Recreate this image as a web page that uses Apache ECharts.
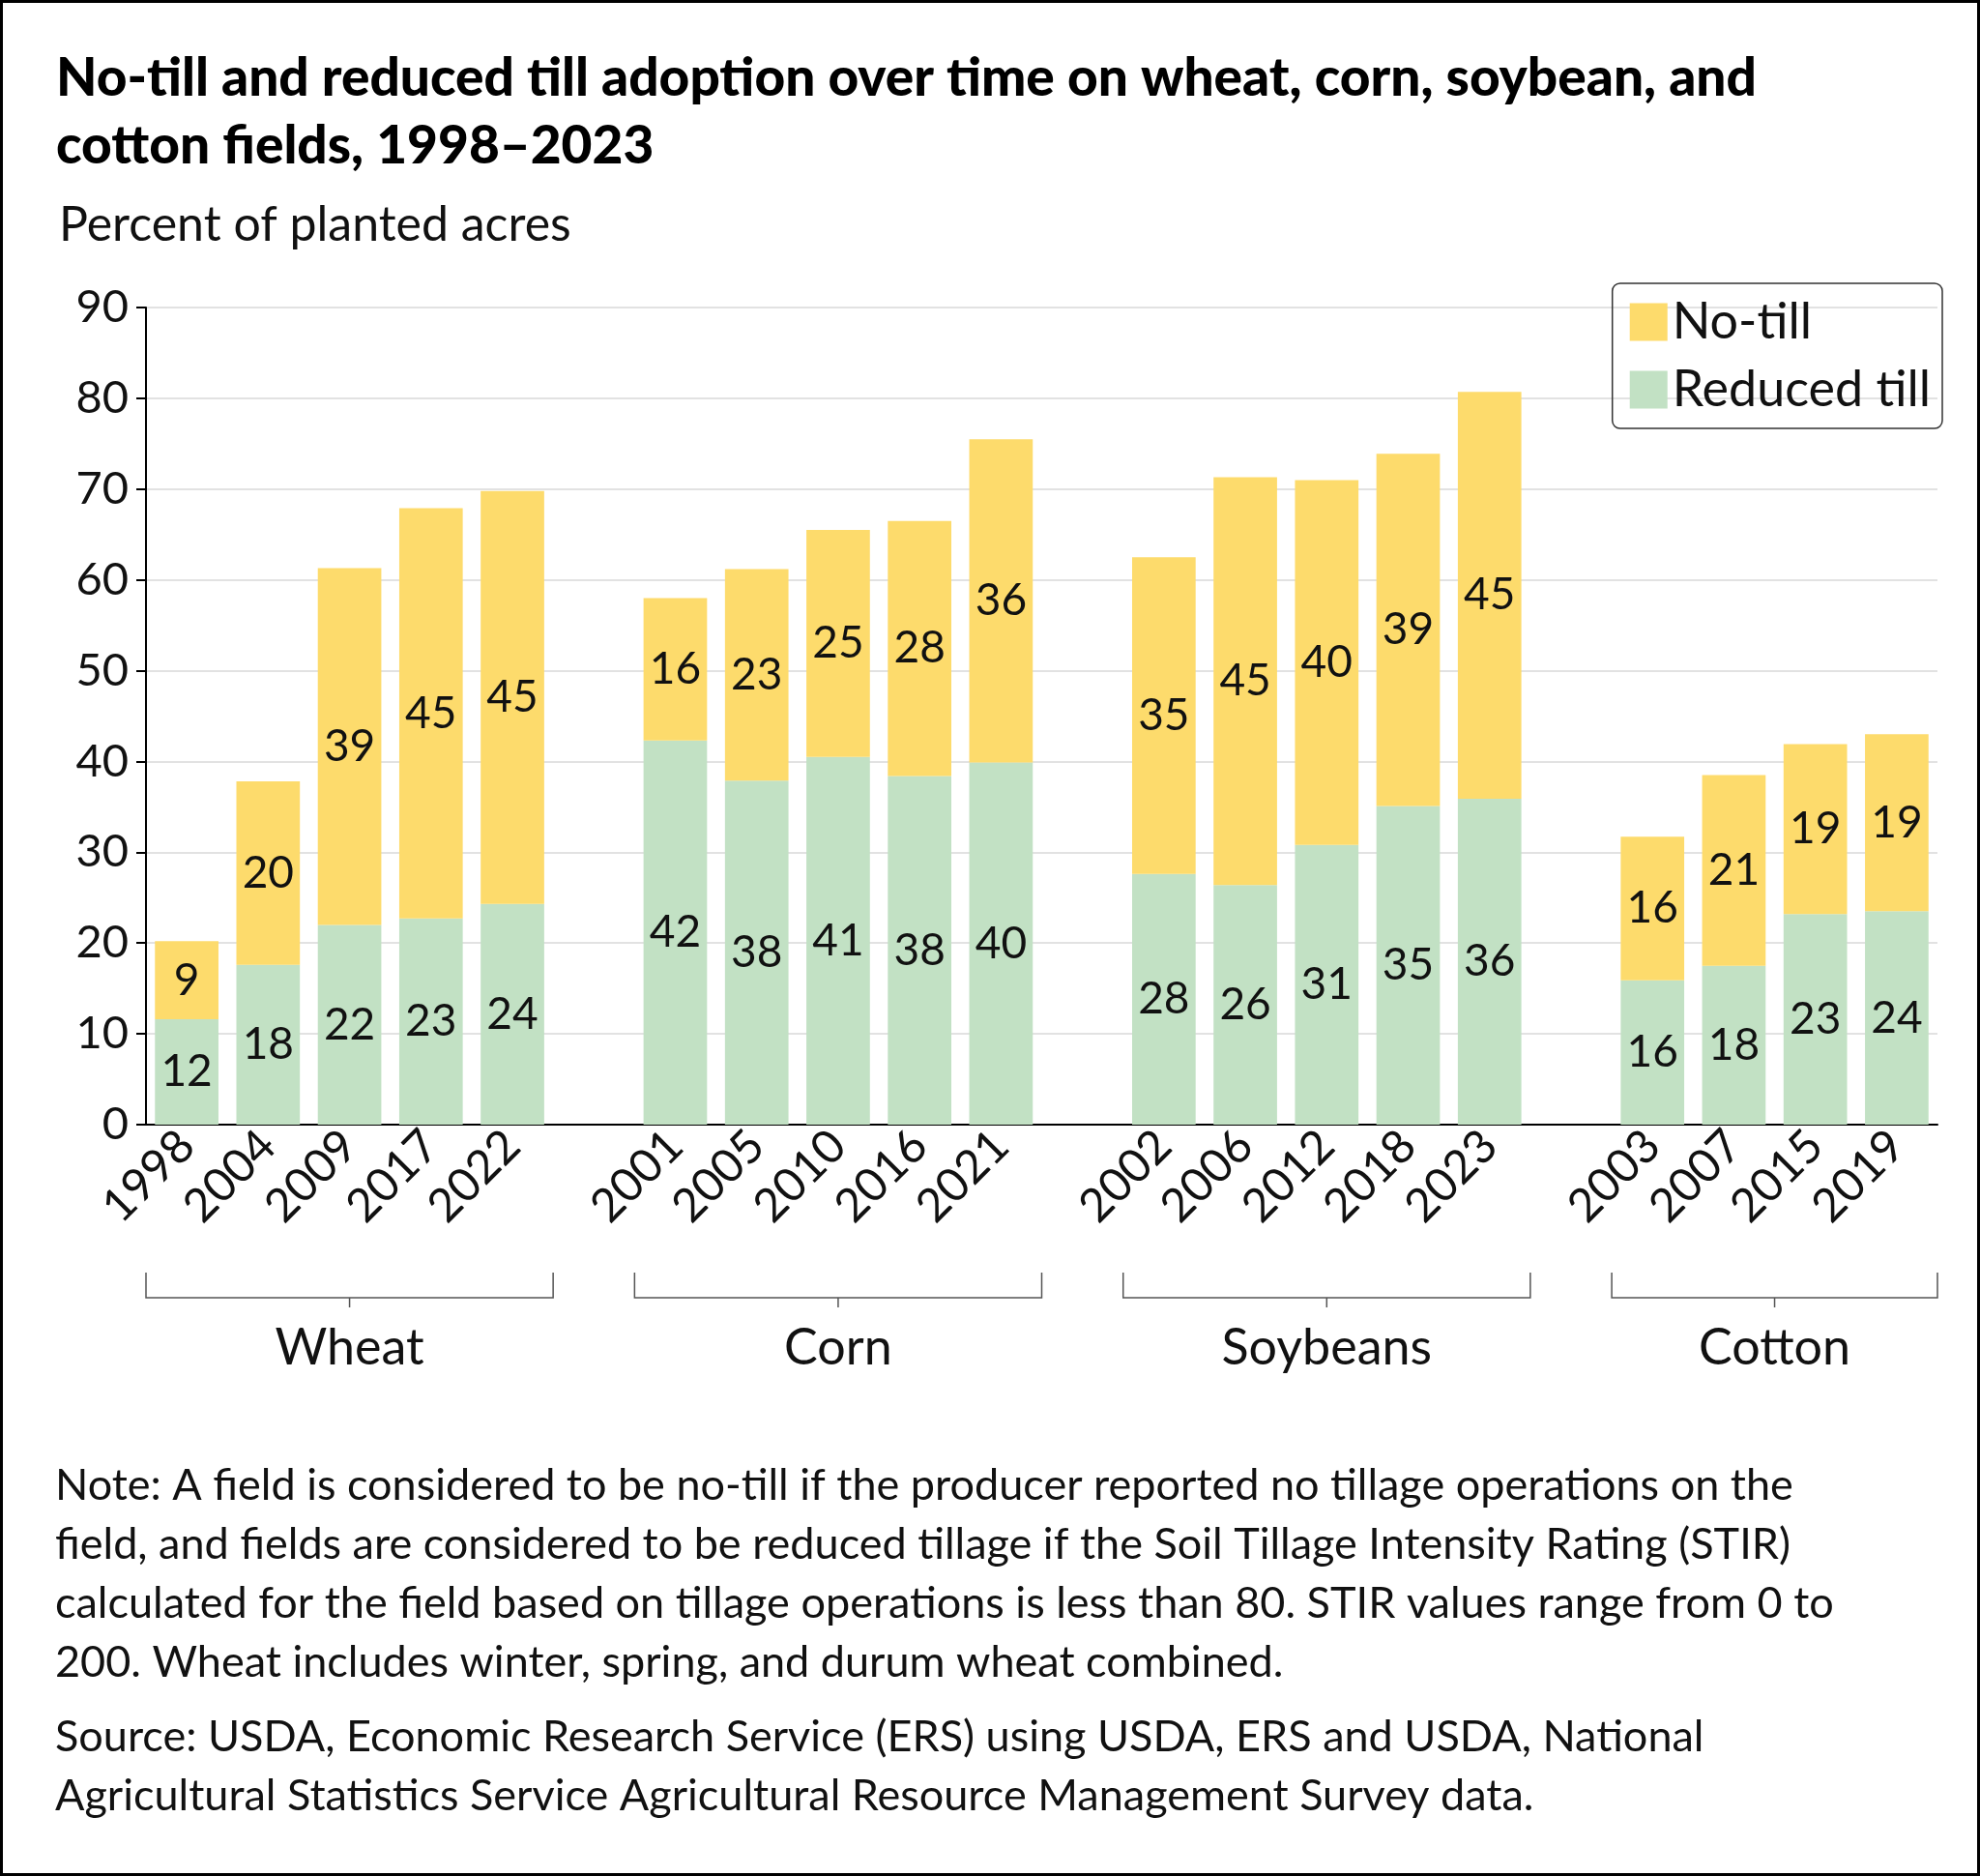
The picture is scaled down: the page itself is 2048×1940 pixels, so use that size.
<!DOCTYPE html>
<html><head><meta charset="utf-8">
<script src="https://cdn.jsdelivr.net/npm/echarts@6/dist/echarts.min.js"></script>
<style>html,body{margin:0;padding:0;background:#fff}#c{width:2048px;height:1940px;box-sizing:border-box;border:3px solid #000}</style>
</head><body><div id="c"></div>
<script>
const years = ['1998','2004','2009','2017','2022',' ','2001','2005','2010','2016','2021','  ','2002','2006','2012','2018','2023','   ','2003','2007','2015','2019'];
const reducedTill = [11.6,17.6,22,22.7,24.3,null,42.3,37.9,40.5,38.4,39.9,null,27.6,26.4,30.8,35.1,35.9,null,15.9,17.5,23.2,23.5];
const noTill = [8.6,20.2,39.3,45.2,45.5,null,15.7,23.3,25,28.1,35.6,null,34.9,44.9,40.2,38.8,44.8,null,15.8,21,18.7,19.5];
const reducedLabels = [12,18,22,23,24,null,42,38,41,38,40,null,28,26,31,35,36,null,16,18,23,24];
const noTillLabels = [9,20,39,45,45,null,16,23,25,28,36,null,35,45,40,39,45,null,16,21,19,19];
const groups = [['Wheat',0,4],['Corn',6,10],['Soybeans',12,16],['Cotton',18,21]];
const F = '"Source Sans Pro", Lato, sans-serif';
const chart = echarts.init(document.getElementById('c'));
const lbl = arr => ({show:true, position:'inside', fontFamily:F, fontSize:46, color:'#111',
  formatter:p=>arr[p.dataIndex]==null?'':String(arr[p.dataIndex])});
chart.setOption({
  animation:false,
  title:[{text:'No-till and reduced till adoption over time on wheat, corn, soybean, and\ncotton fields, 1998–2023', left:50, top:38,
    textStyle:{fontFamily:F, fontWeight:900, fontSize:55, lineHeight:70, color:'#000'}},
    {text:'Percent of planted acres', left:53, top:200, textStyle:{fontFamily:F, fontWeight:'normal', fontSize:50, color:'#111'}}],
  legend:{data:['No-till','Reduced till'], orient:'vertical', right:36, top:290, itemWidth:39, itemHeight:39, itemGap:18,
    borderColor:'#333', borderWidth:1.5, borderRadius:8, padding:[14,12,14,18], icon:'rect',
    textStyle:{fontFamily:F, fontSize:52, color:'#111'}},
  grid:{left:148, right:41, top:315, bottom:774, containLabel:false},
  xAxis:{type:'category', data:years,
    axisLine:{lineStyle:{color:'#000', width:2}},
    axisTick:{alignWithLabel:true, length:10, lineStyle:{color:'#000', width:2}, interval:(i,v)=>v.trim()!==''},
    axisLabel:{rotate:45, interval:0, fontFamily:F, fontSize:48, color:'#111', margin:14}},
  yAxis:{type:'value', min:0, max:90, interval:10,
    axisLine:{show:true, lineStyle:{color:'#000', width:2}},
    axisTick:{show:true, length:10, lineStyle:{color:'#000', width:2}},
    splitLine:{lineStyle:{color:'#d9d9d9', width:1.5}},
    axisLabel:{fontFamily:F, fontSize:47, color:'#111', margin:18}},
  series:[
    {name:'Reduced till', type:'bar', stack:'a', data:reducedTill, barCategoryGap:'22%', itemStyle:{color:'#C2E1C4'}, label:lbl(reducedLabels)},
    {name:'No-till', type:'bar', stack:'a', data:noTill, itemStyle:{color:'#FDDB6C'}, label:lbl(noTillLabels)}
  ]
});
const x0 = chart.convertToPixel({xAxisIndex:0}, 0), x1 = chart.convertToPixel({xAxisIndex:0}, 1);
const half = (x1 - x0) / 2;
const g = [];
groups.forEach(([name,a,b])=>{
  const l = chart.convertToPixel({xAxisIndex:0}, a) - half, r = chart.convertToPixel({xAxisIndex:0}, b) + half;
  const yb = 1339, yt = 1313;
  g.push({type:'polyline', shape:{points:[[l,yt],[l,yb],[r,yb],[r,yt]]}, style:{stroke:'#555', lineWidth:1.5, fill:null}});
  g.push({type:'line', shape:{x1:(l+r)/2, y1:yb, x2:(l+r)/2, y2:yb+10}, style:{stroke:'#555', lineWidth:1.5}});
  g.push({type:'text', x:(l+r)/2, y:1391, style:{text:name, font:'52px '+F, fill:'#111', align:'center', verticalAlign:'middle'}});
});
g.push({type:'text', left:54, top:1503, style:{text:'Note: A field is considered to be no-till if the producer reported no tillage operations on the\nfield, and fields are considered to be reduced tillage if the Soil Tillage Intensity Rating (STIR)\ncalculated for the field based on tillage operations is less than 80. STIR values range from 0 to\n200. Wheat includes winter, spring, and durum wheat combined.',
  font:'45px '+F, lineHeight:61, fill:'#111'}});
g.push({type:'text', left:54, top:1763, style:{text:'Source: USDA, Economic Research Service (ERS) using USDA, ERS and USDA, National\nAgricultural Statistics Service Agricultural Resource Management Survey data.',
  font:'45px '+F, lineHeight:61, fill:'#111'}});
chart.setOption({graphic:g});
</script></body></html>
